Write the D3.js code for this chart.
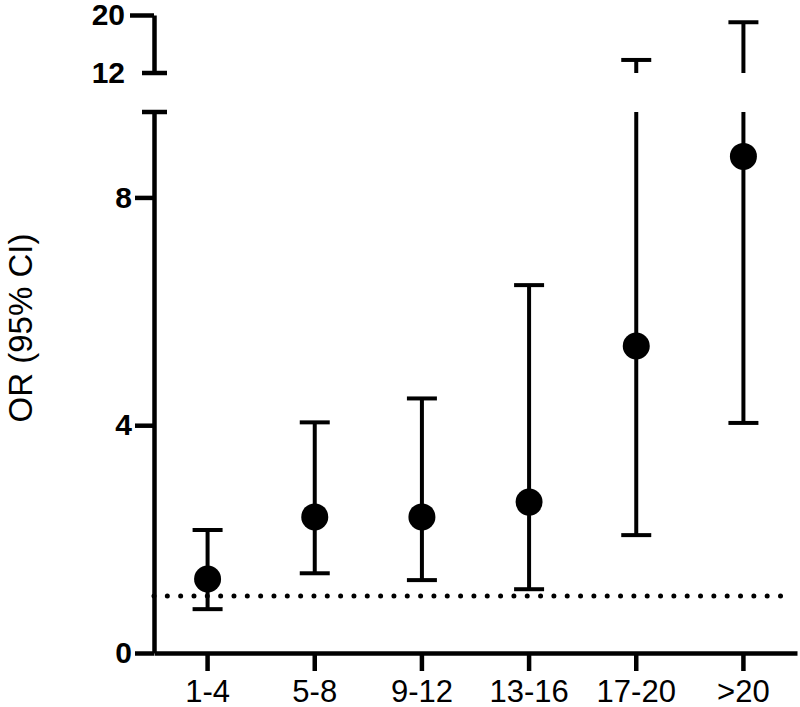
<!DOCTYPE html>
<html>
<head>
<meta charset="utf-8">
<script src="https://cdn.jsdelivr.net/npm/d3@7"></script>
<style>
  body { margin: 0; background: #fff; }
  svg { display: block; font-family: "Liberation Sans", Arial, sans-serif; }
</style>
</head>
<body>
<div id="chart"></div>
<script>
const categories = ['1-4', '5-8', '9-12', '13-16', '17-20', '>20'];
const oddsRatio = [1.30, 2.39, 2.39, 2.65, 5.39, 8.72];
const ciLower = [0.77, 1.40, 1.28, 1.12, 2.07, 4.04];
const ciUpper = [2.16, 4.05, 4.47, 6.46, 13.8, 19.0];
const lowTicks = [0, 4, 8];
const highTicks = [12, 20];
const refLine = 1;

const W = 800, H = 707;
const axisX = 154;
const lowDomain = [0, 9.5], highDomain = [12, 20];

const svg = d3.select('#chart').append('svg').attr('width', W).attr('height', H);

const x = d3.scaleBand().domain(categories).range([axisX, 797]);
const yLow = d3.scaleLinear().domain(lowDomain).range([653, 112]);
const yHigh = d3.scaleLinear().domain(highDomain).range([73, 15]);

// reference line at OR = 1
svg.append('line')
  .attr('x1', axisX).attr('x2', 790)
  .attr('y1', yLow(refLine)).attr('y2', yLow(refLine))
  .attr('stroke', '#000')
  .attr('stroke-width', 5)
  .attr('stroke-linecap', 'round')
  .attr('stroke-dasharray', '0,13.33');

// y axis, lower segment
const gLow = svg.append('g')
  .attr('transform', 'translate(' + axisX + ',0)')
  .call(d3.axisLeft(yLow).tickValues(lowTicks).tickSize(19).tickSizeOuter(0).tickPadding(3));

// y axis, upper segment
const gHigh = svg.append('g')
  .attr('transform', 'translate(' + axisX + ',0)')
  .call(d3.axisLeft(yHigh).tickValues(highTicks).tickSize(24).tickSizeOuter(0).tickPadding(5));
gHigh.selectAll('.tick').filter(d => d === 12).select('line').remove();

[gLow, gHigh].forEach(g => {
  g.select('.domain').attr('stroke-width', 4.5);
  g.selectAll('.tick line').attr('stroke-width', 4.5);
  g.selectAll('.tick text')
    .attr('font-size', 30)
    .attr('font-weight', 'bold')
    .attr('fill', '#000');
});

// break caps
[yLow(lowDomain[1]), yHigh(highDomain[0])].forEach(yy => {
  svg.append('line')
    .attr('x1', axisX - 12).attr('x2', axisX + 13)
    .attr('y1', yy).attr('y2', yy)
    .attr('stroke', '#000').attr('stroke-width', 4.5);
});

// x axis
const gx = svg.append('g')
  .attr('transform', 'translate(0,' + yLow(0) + ')')
  .call(d3.axisBottom(x).tickSize(18).tickSizeOuter(0).tickPadding(9));
gx.select('.domain').attr('stroke-width', 4.5);
gx.selectAll('.tick line').attr('stroke-width', 4.5);
gx.selectAll('.tick text').attr('font-size', 31).attr('fill', '#000');

// y axis title
svg.append('text')
  .attr('transform', 'translate(32,328) rotate(-90)')
  .attr('text-anchor', 'middle')
  .attr('font-size', 33)
  .attr('fill', '#000')
  .text('OR (95% CI)');

// error bars
const capW = 30;
const bars = svg.append('g')
  .attr('stroke', '#000')
  .attr('stroke-width', 4)
  .attr('stroke-linecap', 'butt');

categories.forEach((c, i) => {
  const cx = x(c) + x.bandwidth() / 2;
  const lo = ciLower[i], hi = ciUpper[i];
  const topLow = Math.min(hi, lowDomain[1]);
  bars.append('line')
    .attr('x1', cx).attr('x2', cx)
    .attr('y1', yLow(lo)).attr('y2', yLow(topLow));
  bars.append('line')
    .attr('x1', cx - capW / 2).attr('x2', cx + capW / 2)
    .attr('y1', yLow(lo)).attr('y2', yLow(lo));
  if (hi > highDomain[0]) {
    bars.append('line')
      .attr('x1', cx).attr('x2', cx)
      .attr('y1', yHigh(highDomain[0])).attr('y2', yHigh(hi));
    bars.append('line')
      .attr('x1', cx - capW / 2).attr('x2', cx + capW / 2)
      .attr('y1', yHigh(hi)).attr('y2', yHigh(hi));
  } else {
    bars.append('line')
      .attr('x1', cx - capW / 2).attr('x2', cx + capW / 2)
      .attr('y1', yLow(hi)).attr('y2', yLow(hi));
  }
});

// points
svg.append('g')
  .selectAll('circle')
  .data(categories)
  .enter()
  .append('circle')
  .attr('cx', d => x(d) + x.bandwidth() / 2)
  .attr('cy', (d, i) => yLow(oddsRatio[i]))
  .attr('r', 13.5)
  .attr('fill', '#000');
</script>
</body>
</html>
